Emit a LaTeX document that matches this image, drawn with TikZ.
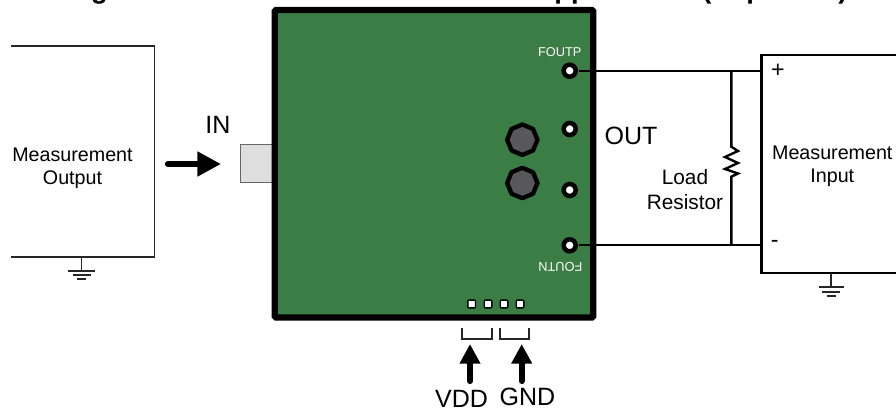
\documentclass[tikz,border=0pt]{standalone}
\usepackage{fontspec}
\setmainfont{Liberation Sans}
\usetikzlibrary{arrows.meta,shapes.geometric}

\begin{document}
\begin{tikzpicture}[x=.025cm,y=-.025cm,
    every node/.style={inner sep=0pt, outer sep=0pt},
    wire/.style={line width=1.7pt},
    thinwire/.style={line width=1.15pt, color=black!85},
    bigarrow/.style={line width=4.4pt, line cap=round, -{Triangle[length=#1cm,width=#1cm]}},
    pad/.style={circle, draw=black, line width=3.2pt, fill=white, minimum size=.3cm},
    button/.style={regular polygon, regular polygon sides=8, shape border rotate=22.5, draw=black, line width=3.1pt, line join=round, fill=buttongray, minimum size=.76cm},
    pin/.style={draw=black, line width=1pt, fill=white, rounded corners=.5pt, minimum size=.19cm},
    bigtext/.style={font=\fontsize{17.8}{20}\selectfont},
    midtext/.style={font=\fontsize{14}{16.4}\selectfont, align=center},
    silk/.style={font=\fontsize{9.1}{11}\selectfont, color=white},
    titlepiece/.style={font=\fontsize{19.4}{22}\bfseries\selectfont, anchor=base}]
    \definecolor{boardgreen}{HTML}{3A7D45}
    \definecolor{buttongray}{HTML}{58585A}
    \useasboundingbox (0,0) rectangle (896,408);
    \clip (0,0) rectangle (896,408);

    \node[titlepiece] (titleg) at (99.5,-1.7) {g};
    \node[titlepiece] (titlepp) at (571,-1.7) {pp};
    \node[titlepiece] (titleopen) at (707,-1.7) {(};
    \node[titlepiece] (titlep) at (754.6,-1.7) {p};
    \node[titlepiece] (titleclose) at (843,-1.7) {)};

    % source box on the left
    \draw[thinwire] (11,46) -- (154.5,46) -- (154.5,257.3) -- (11,257.3);
    \node[midtext] (source) at (72.5,168) {Measurement\\Output};
    \draw[thinwire] (81.5,257.3) -- (81.5,270.7);
    \draw[thinwire] (68.3,270.7) -- (94.7,270.7);
    \draw[thinwire] (72.7,275) -- (90.7,275);
    \draw[thinwire] (76.7,279) -- (86.3,279);

    \node[bigtext] (inlabel) at (218,125) {IN};
    \coordinate (intail) at (168,164);
    \coordinate (inhead) at (221,164);
    \draw[bigarrow=.59] (intail) -- (inhead);

    % board
    \draw[draw=black!60, fill=black!13, line width=.8pt] (240.7,144.3) rectangle (276,182.3);
    \draw[draw=black, fill=boardgreen, line width=4.5pt, rounded corners=1pt] (274.8,10) rectangle (593.2,317.5);
    \node[button] (buttona) at (522.3,139.7) {};
    \node[button] (buttonb) at (522.3,183) {};
    \node[pad] (foutp) at (569.7,70.7) {};
    \node[pad] (outb) at (569.7,129) {};
    \node[pad] (outc) at (569.7,190) {};
    \node[pad] (foutn) at (569.7,245.3) {};
    \node[silk] (foutplabel) at (559.7,51.7) {FOUTP};
    \node[silk, rotate=180] (foutnlabel) at (560.3,266.7) {FOUTN};
    \node[pin] (pina) at (471.7,304) {};
    \node[pin] (pinb) at (488,304) {};
    \node[pin] (pinc) at (504,304) {};
    \node[pin] (pind) at (520,304) {};

    % supply pins
    \draw[thinwire] (462.3,328.3) -- (462.3,338.7) -- (492.3,338.7) -- (492.3,328.3);
    \draw[thinwire] (499.7,328.3) -- (499.7,338.7) -- (529.3,338.7) -- (529.3,328.3);
    \coordinate (vddtail) at (470,381);
    \coordinate (vddhead) at (470,344);
    \coordinate (gndtail) at (521.7,381);
    \coordinate (gndhead) at (521.7,344);
    \draw[bigarrow=.49] (vddtail) -- (vddhead);
    \draw[bigarrow=.49] (gndtail) -- (gndhead);
    \node[bigtext] (vddlabel) at (461.5,399) {VDD};
    \node[bigtext] (gndlabel) at (527.5,396.7) {GND};

    % output side
    \coordinate (loadtop) at (731.3,70.7);
    \coordinate (loadbot) at (731.3,245.3);
    \coordinate (inplus) at (761.3,70.7);
    \coordinate (inminus) at (761.3,245.3);
    \draw[wire, shorten <=2.5pt] (foutp) -- (inplus);
    \draw[wire, shorten <=2.5pt] (foutn) -- (inminus);
    \draw[wire] (loadtop) -- (731.3,146.7) -- (738,151) -- (725,157) -- (738,163) -- (725,169) -- (738,173.5) -- (731.3,176.7) -- (loadbot);
    \node[bigtext] (outlabel) at (631,135.7) {OUT};
    \node[midtext, font=\fontsize{14.8}{17.6}\selectfont] (loadlabel) at (685,189.5) {Load\\Resistor};

    % meter box on the right
    \draw[wire] (900,55) -- (761.3,55) -- (761.3,273) -- (900,273);
    \node[midtext] (meter) at (832.3,166.5) {Measurement\\Input};
    \node[midtext, font=\fontsize{16.5}{18}\selectfont] (plus) at (778,71) {+};
    \node[midtext, font=\fontsize{16.5}{18}\selectfont] (minus) at (774.7,244) {-};
    \draw[thinwire] (831.3,273) -- (831.3,287.3);
    \draw[thinwire] (818.6,287.3) -- (844,287.3);
    \draw[thinwire] (822.3,291.7) -- (840.3,291.7);
    \draw[thinwire] (826.6,295.7) -- (836,295.7);
\end{tikzpicture}
\end{document}
